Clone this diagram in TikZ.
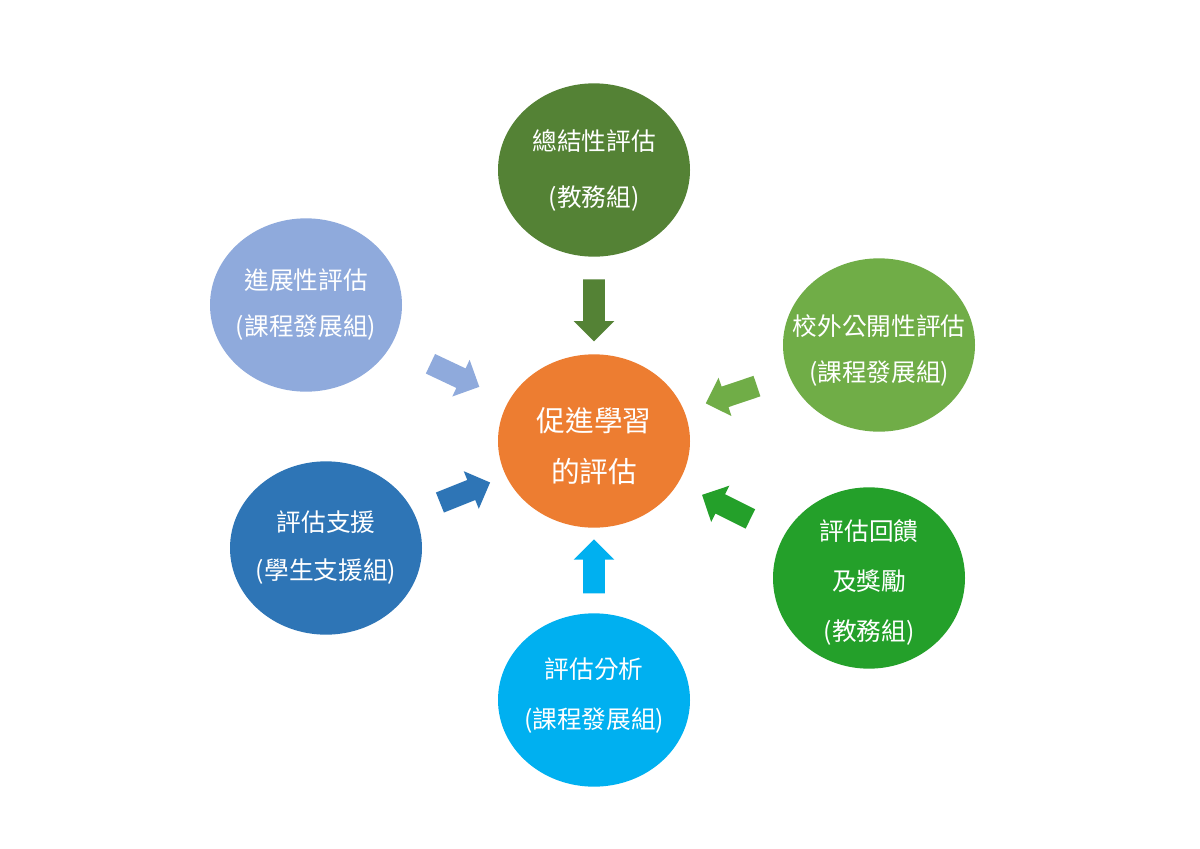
\documentclass[tikz,border=0pt]{standalone}
\usepackage{fontspec}
\newfontfamily\cjk{Noto Sans CJK TC}
\usetikzlibrary{shapes.geometric,shapes.arrows}

\definecolor{midorange}{HTML}{ED7D31}
\definecolor{sumgreen}{HTML}{548235}
\definecolor{progblue}{HTML}{8FAADC}
\definecolor{extgreen}{HTML}{70AD47}
\definecolor{suppblue}{HTML}{2E75B6}
\definecolor{fbgreen}{HTML}{24A02A}
\definecolor{anacyan}{HTML}{00B0F0}

\tikzset{
  bubble/.style={ellipse, fill=#1, draw=none, inner sep=0pt,
    minimum width=144pt, minimum height=130pt},
  txt/.style={text=white, align=center, inner sep=0pt,
    font=\cjk\fontsize{18.5}{#1}\selectfont},
  txt/.default=36,
  feed/.style={single arrow, fill=#1, draw=none, inner sep=7.9pt,
    minimum height=40.5pt, minimum width=30pt,
    single arrow head extend=7.1pt, sloped, allow upside down}
}

\begin{document}
\begin{tikzpicture}[x=0.75pt,y=-0.75pt]
\fill[white] (0,0) rectangle (1200,849);
\useasboundingbox (0,0) rectangle (1200,849);

% circles
\node[bubble=midorange] (mid) at (594,441) {};
\node[bubble=sumgreen] (sum) at (594,170) {};
\node[bubble=progblue] (prog) at (306,305) {};
\node[bubble=extgreen] (ext) at (879,345) {};
\node[bubble=suppblue] (supp) at (326,548) {};
\node[bubble=fbgreen, minimum height=136pt] (fb) at (869,578) {};
\node[bubble=anacyan] (ana) at (594,700) {};

% texts
\node[txt=38, font=\cjk\fontsize{21.5}{38}\selectfont] (mid-t) at ([yshift=-4pt]mid) {促進學習\\的評估};
\node[txt=42] (sum-t) at (sum) {總結性評估\\(教務組)};
\node[txt=34.5] (prog-t) at (prog) {進展性評估\\(課程發展組)};
\node[txt=35] (ext-t) at ([yshift=-4pt]ext) {校外公開性評估\\(課程發展組)};
\node[txt=36] (supp-t) at (supp) {評估支援\\(學生支援組)};
\node[txt=37.5] (fb-t) at ([yshift=-3pt]fb) {評估回饋\\及獎勵\\(教務組)};
\node[txt=37.5] (ana-t) at ([yshift=3pt]ana) {評估分析\\(課程發展組)};

% arrows into the centre
\path (sum) -- node[feed=sumgreen, minimum height=46.5pt, pos=0.495] (a1) {} (mid);
\path (prog) -- node[feed=progblue] (a2) {} (mid);
\path (ext) -- node[feed=extgreen] (a3) {} (mid);
\path (supp) -- node[feed=suppblue] (a4) {} (mid);
\path (fb) -- node[feed=fbgreen] (a5) {} (mid);
\path (ana) -- node[feed=anacyan, pos=0.486] (a6) {} (mid);
\end{tikzpicture}
\end{document}
